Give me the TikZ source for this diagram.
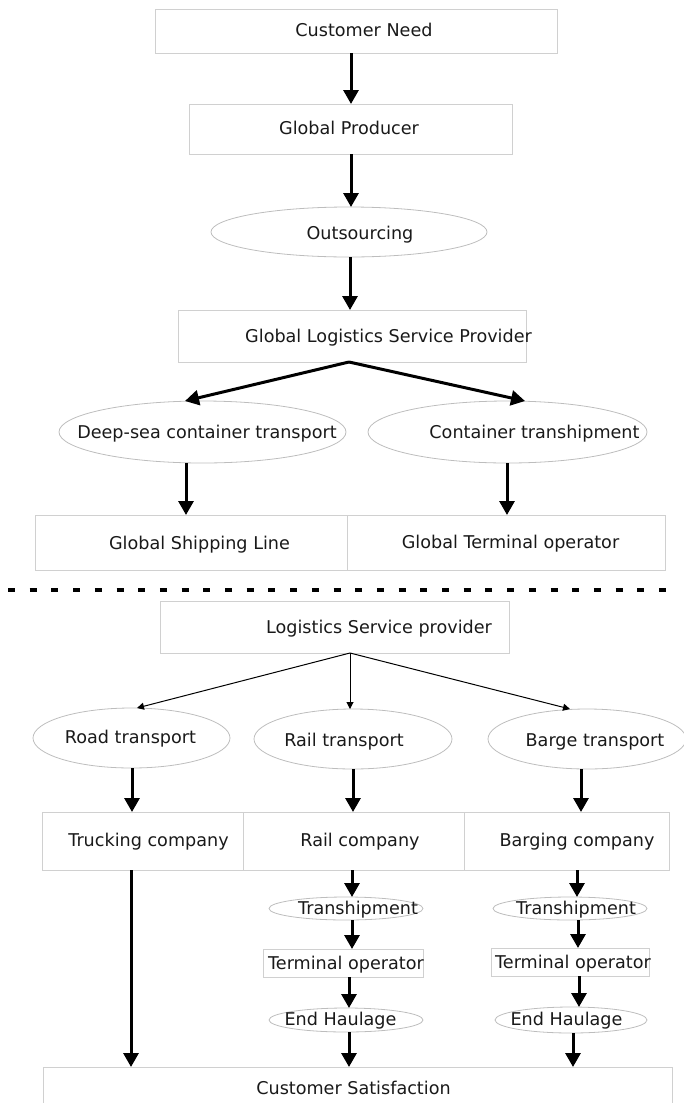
\documentclass[tikz,border=0pt]{standalone}
\usepackage{fontspec}
\setmainfont{DejaVu Sans}
\usetikzlibrary{arrows.meta,shapes.geometric}
\definecolor{boxgray}{HTML}{D0D0D0}
\definecolor{ellgray}{HTML}{BDBDBD}
\tikzset{
  box/.style={draw=boxgray,line width=1pt,rectangle,inner sep=0pt,outer sep=0pt},
  oval/.style={draw=ellgray,line width=0.8pt,ellipse,inner sep=0pt,outer sep=0pt},
  txt/.style={inner sep=0pt,outer sep=0pt,text height=12.8pt,text depth=0pt,
    font=\fontsize{17.6}{20}\selectfont,text=black!90},
  arr/.style={line width=3pt,-{Triangle[length=14pt,width=15pt]}},
  thinarr/.style={line width=1pt,-{Triangle[length=7pt,width=7pt]}},
  sepline/.style={line width=3.5pt,dash pattern=on 7pt off 14.7pt}
}
\begin{document}
\begin{tikzpicture}[x=1pt,y=-1pt]
\useasboundingbox (0,0) rectangle (684,1103);
% upper part
\node[box,minimum width=402,minimum height=44] (cn) at (356,31) {};
\node[txt] (cnt) at (364,30) {Customer Need};
\node[box,minimum width=323,minimum height=50] (gp) at (350.5,129) {};
\node[txt] (gpt) at (349,128) {Global Producer};
\node[oval,minimum width=276,minimum height=50] (out) at (349,232) {};
\node[txt] (outt) at (360,233) {Outsourcing};
\node[box,minimum width=348,minimum height=52] (glsp) at (352,336) {};
\node[txt] (glspt) at (388.5,336) {Global Logistics Service Provider};
\node[oval,minimum width=287,minimum height=62] (deep) at (202.5,432) {};
\node[txt] (deept) at (207,432) {Deep-sea container transport};
\node[oval,minimum width=279,minimum height=62] (ct) at (507.5,432) {};
\node[txt] (ctt) at (534.5,432) {Container transhipment};
\node[box,minimum width=312,minimum height=55] (gsl) at (191,542.5) {};
\node[txt] (gslt) at (199.5,543) {Global Shipping Line};
\node[box,minimum width=318,minimum height=55] (gto) at (506,542.5) {};
\node[txt] (gtot) at (510.5,542) {Global Terminal operator};
% separator
\coordinate (sepL) at (8,590);
\coordinate (sepR) at (678,590);
\draw[sepline] (sepL) -- (sepR);
% lower part
\node[box,minimum width=349,minimum height=52] (lsp) at (334.5,627) {};
\node[txt] (lspt) at (379,627) {Logistics Service provider};
\node[oval,minimum width=197,minimum height=60] (road) at (131.5,738) {};
\node[txt] (roadt) at (130.5,737) {Road transport};
\node[oval,minimum width=198,minimum height=60] (rail) at (353,739) {};
\node[txt] (railt) at (344,740) {Rail transport};
\node[oval,minimum width=198,minimum height=60] (barge) at (587,739) {};
\node[txt] (barget) at (595,740) {Barge transport};
\node[box,minimum width=201,minimum height=58] (truck) at (142.5,841) {};
\node[txt] (truckt) at (148.5,840) {Trucking company};
\node[box,minimum width=221,minimum height=58] (railco) at (353.5,841) {};
\node[txt] (railcot) at (360,840) {Rail company};
\node[box,minimum width=205,minimum height=58] (bargeco) at (566.5,841) {};
\node[txt] (bargecot) at (577,840) {Barging company};
\node[oval,minimum width=154,minimum height=23] (ta) at (346,908.5) {};
\node[txt] (tat) at (358,908) {Transhipment};
\node[box,minimum width=160,minimum height=28] (toa) at (343,963) {};
\node[txt] (toat) at (346,963) {Terminal operator};
\node[oval,minimum width=154,minimum height=24] (eha) at (346,1020) {};
\node[txt] (ehat) at (340.5,1019) {End Haulage};
\node[oval,minimum width=154,minimum height=23] (tb) at (570,908.5) {};
\node[txt] (tbt) at (576,908) {Transhipment};
\node[box,minimum width=158,minimum height=28] (tob) at (570,962) {};
\node[txt] (tobt) at (573,962) {Terminal operator};
\node[oval,minimum width=152,minimum height=26] (ehb) at (571,1020) {};
\node[txt] (ehbt) at (566.5,1019) {End Haulage};
\node[box,minimum width=629,minimum height=48] (cs) at (357.5,1091) {};
\node[txt] (cst) at (353.5,1088) {Customer Satisfaction};
% connectors upper
\draw[arr] (cn.south -| 351,0) -- (gp.north -| 351,0);
\draw[arr] (gp.south -| 351,0) -- (out.north -| 351,0);
\draw[arr] (out.south -| 350,0) -- (glsp.north -| 350,0);
\draw[arr] (glsp.south -| 349,0) -- (deep.north -| 185,0);
\draw[arr] (glsp.south -| 349,0) -- (ct.north -| 525,0);
\draw[arr] (deep.south -| 186,0) -- (gsl.north -| 186,0);
\draw[arr] (ct.south -| 507,0) -- (gto.north -| 507,0);
% connectors lower
\draw[thinarr] (lsp.south -| 350,0) -- (road.north -| 137,0);
\draw[thinarr] (lsp.south -| 350,0) -- (rail.north -| 350,0);
\draw[thinarr] (lsp.south -| 350,0) -- (barge.north -| 570,0);
\draw[arr] (road.south -| 132,0) -- (truck.north -| 132,0);
\draw[arr] (rail.south -| 353,0) -- (railco.north -| 353,0);
\draw[arr] (barge.south -| 581,0) -- (bargeco.north -| 581,0);
\draw[arr] (truck.south -| 131,0) -- (cs.north -| 131,0);
\draw[arr] (railco.south -| 352,0) -- (ta.north -| 352,0);
\draw[arr] (ta.south -| 352,0) -- (toa.north -| 352,0);
\draw[arr] (toa.south -| 349,0) -- (eha.north -| 349,0);
\draw[arr] (eha.south -| 349,0) -- (cs.north -| 349,0);
\draw[arr] (bargeco.south -| 577,0) -- (tb.north -| 577,0);
\draw[arr] (tb.south -| 578,0) -- (tob.north -| 578,0);
\draw[arr] (tob.south -| 579,0) -- (ehb.north -| 579,0);
\draw[arr] (ehb.south -| 573,0) -- (cs.north -| 573,0);
\end{tikzpicture}
\end{document}
